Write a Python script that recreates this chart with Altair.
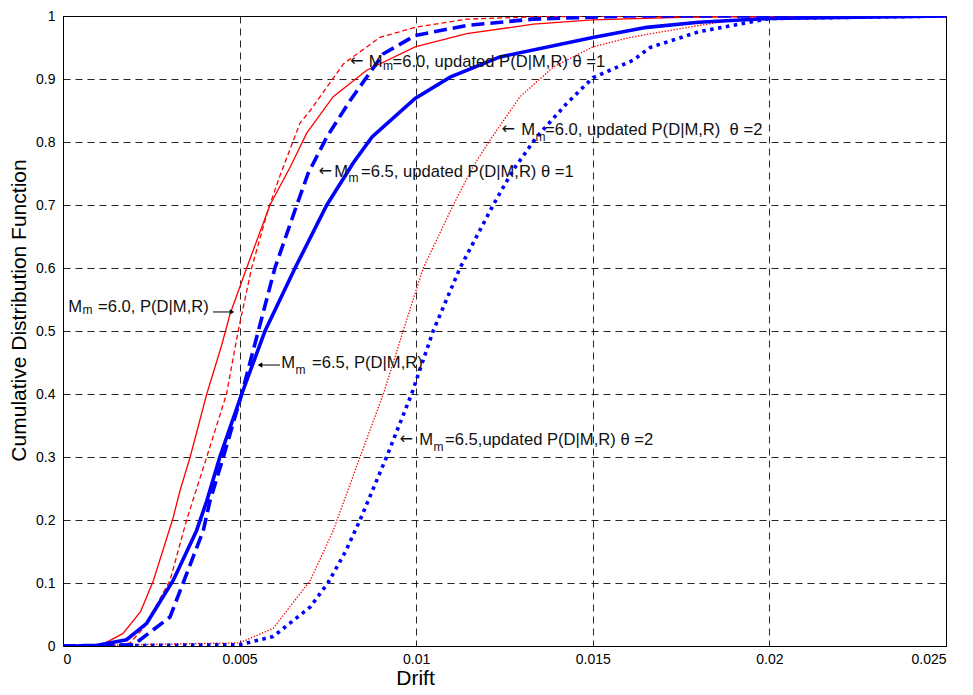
import altair as alt
import pandas as pd

FONT = "Liberation Sans"

# ---------------- data ----------------
# Mm=6.0, P(D|M,R)  (red solid)
r60_x = [0, 0.0011, 0.0017, 0.0022, 0.00256, 0.00312, 0.00331, 0.0036, 0.00407, 0.00449, 0.00473,
         0.0052, 0.00586, 0.00643, 0.0069, 0.00765, 0.0086, 0.00997, 0.01143, 0.01332, 0.015, 0.0175, 0.02, 0.025]
r60_y = [0, 0.002, 0.02, 0.055, 0.104, 0.204, 0.246, 0.3, 0.4, 0.477, 0.527,
         0.6, 0.7, 0.76, 0.814, 0.872, 0.914, 0.951, 0.972, 0.987, 0.994, 0.998, 0.999, 1.0]

# Mm=6.0, updated P(D|M,R) theta=1  (red dashed)
r60u1_x = [0, 0.0015, 0.0019, 0.0023, 0.00303, 0.0035, 0.00407, 0.00463, 0.00496, 0.00534, 0.00581,
           0.00614, 0.00671, 0.007, 0.00794, 0.00897, 0.00997, 0.01143, 0.0135, 0.017, 0.025]
r60u1_y = [0, 0.0, 0.005, 0.03, 0.104, 0.2, 0.3, 0.4, 0.5, 0.6, 0.693,
           0.746, 0.83, 0.85, 0.924, 0.966, 0.982, 0.995, 0.999, 1.0, 1.0]

# Mm=6.0, updated P(D|M,R) theta=2  (red dotted)
r60u2_x = [0, 0.005, 0.00595, 0.007, 0.00765, 0.00841, 0.00907, 0.00963, 0.0102, 0.01105, 0.01162,
           0.01209, 0.01294, 0.01388, 0.015, 0.01605, 0.018, 0.0194, 0.022, 0.025]
r60u2_y = [0, 0.005, 0.028, 0.104, 0.183, 0.3, 0.4, 0.5, 0.6, 0.7, 0.762,
           0.803, 0.872, 0.919, 0.951, 0.966, 0.985, 0.997, 0.999, 1.0]

# Mm=6.5, P(D|M,R)  (blue solid)
b65_x = [0, 0.00086, 0.0018, 0.00237, 0.00312, 0.00378, 0.00407, 0.00444, 0.00506, 0.00572,
         0.00657, 0.00747, 0.00822, 0.00875, 0.00997, 0.01096, 0.01237, 0.015, 0.01653, 0.018, 0.02, 0.025]
b65_y = [0, 0.0, 0.01, 0.036, 0.104, 0.183, 0.23, 0.3, 0.4, 0.5,
         0.6, 0.7, 0.767, 0.808, 0.869, 0.903, 0.935, 0.966, 0.982, 0.99, 0.996, 1.0]

# Mm=6.5, updated P(D|M,R) theta=1  (blue dashed)
b65u1_x = [0, 0.002, 0.00303, 0.00397, 0.00416, 0.00454, 0.00506, 0.00553, 0.006, 0.00662, 0.00694,
           0.00747, 0.00813, 0.00907, 0.00997, 0.01143, 0.0133, 0.016, 0.025]
b65u1_y = [0, 0.002, 0.046, 0.183, 0.23, 0.3, 0.4, 0.5, 0.6, 0.7, 0.75,
           0.808, 0.866, 0.94, 0.969, 0.985, 0.995, 1.0, 1.0]

# Mm=6.5, updated P(D|M,R) theta=2  (blue dotted)
b65u2_x = [0, 0.005, 0.00595, 0.007, 0.0075, 0.008, 0.00841, 0.00916, 0.00987, 0.01048, 0.01124,
           0.01218, 0.01275, 0.01341, 0.01426, 0.015, 0.01615, 0.01662, 0.018, 0.02, 0.025]
b65u2_y = [0, 0.002, 0.015, 0.062, 0.1, 0.15, 0.2, 0.3, 0.4, 0.5, 0.6,
           0.7, 0.756, 0.808, 0.861, 0.902, 0.93, 0.95, 0.975, 0.996, 1.0]

x_ticks = [0, 0.005, 0.01, 0.015, 0.02, 0.025]
y_ticks = [0, 0.1, 0.2, 0.3, 0.4, 0.5, 0.6, 0.7, 0.8, 0.9, 1.0]

# annotations: optional arrow glyph, "M", subscript "m", remainder
ann_arrow = ["\u2190", "\u2190", "\u2190", "", "", "\u2190"]
ann_rest = ["=6.0, updated P(D|M,R) \u03b8 =1",
            "=6.0, updated P(D|M,R) \u00a0\u03b8 =2",
            "=6.5, updated P(D|M,R) \u03b8 =1",
            "=6.0, P(D|M,R)",
            "=6.5, P(D|M,R)",
            "=6.5,updated P(D|M,R) \u03b8 =2"]
ann_x = [0.009046, 0.013363, 0.008069, 0.000538, 0.006568, 0.010476]
ann_y = [0.9195, 0.8111, 0.7449, 0.5306, 0.4408, 0.319]
ann_sub_dy = [3, 6, 5, 2, 6, 6]
ann_rest_dx = [10, 10, 13, 16, 17, 12]
ann_arrow_dx = [-19, -20, -16, 0, 0, -20]

# drawn arrows (line + head): start x, head x, y
arr_x1 = [0.004247, 0.006144]
arr_x2 = [0.004785, 0.005578]
arr_y = [0.5302, 0.446]
arr_shape = ["triangle-right", "triangle-left"]

# ---------------- chart ----------------
xscale = alt.Scale(domain=[0, 0.025], nice=False, zero=False)
yscale = alt.Scale(domain=[0, 1], nice=False)
xaxis = alt.Axis(values=x_ticks, format="~g", title="Drift", titleX=352, titleY=21,
                 titleAnchor="start", titleAlign="center", titleBaseline="top")
yaxis = alt.Axis(values=y_ticks, format="~g", title="Cumulative Distribution Function",
                 titleX=-44, titleY=294, titleAlign="center", titleBaseline="middle", titleAngle=-90)

X = alt.X("x:Q", scale=xscale, axis=xaxis)
Y = alt.Y("y:Q", scale=yscale, axis=yaxis)


def line_layer(xs, ys, color, width, dash=None):
    df = pd.DataFrame({"x": xs, "y": ys})
    kw = dict(color=color, strokeWidth=width, clip=True)
    if dash:
        kw["strokeDash"] = dash
    return alt.Chart(df).mark_line(**kw).encode(x=X, y=Y)


layers = [
    line_layer(r60_x, r60_y, "#ff0000", 1.3),
    line_layer(r60u1_x, r60u1_y, "#ff0000", 1.3, [5, 3]),
    line_layer(r60u2_x, r60u2_y, "#ff0000", 1.3, [1.4, 1.6]),
    line_layer(b65_x, b65_y, "#0000ff", 3.6),
    line_layer(b65u1_x, b65u1_y, "#0000ff", 3.6, [13, 6]),
    line_layer(b65u2_x, b65u2_y, "#0000ff", 3.6, [3.5, 4.5]),
]

FS = 16.6
for i in range(len(ann_rest)):
    df = pd.DataFrame({"x": [ann_x[i]], "y": [ann_y[i]], "a": [ann_arrow[i]], "p": ["M"],
                       "s": ["m"], "r": [ann_rest[i]]})
    base = alt.Chart(df)
    if ann_arrow[i]:
        layers.append(base.mark_text(align="right", baseline="alphabetic", font="DejaVu Sans",
                                     fontSize=16, color="#111", dx=ann_arrow_dx[i], dy=-1).encode(
            x=X, y=Y, text="a:N"))
    layers.append(base.mark_text(align="right", baseline="alphabetic", font=FONT,
                                 fontSize=FS, color="#111").encode(x=X, y=Y, text="p:N"))
    layers.append(base.mark_text(align="left", baseline="alphabetic", font=FONT,
                                 fontSize=12, color="#111", dx=0.5,
                                 dy=ann_sub_dy[i]).encode(x=X, y=Y, text="s:N"))
    layers.append(base.mark_text(align="left", baseline="alphabetic", font=FONT,
                                 fontSize=FS, color="#111",
                                 dx=ann_rest_dx[i]).encode(x=X, y=Y, text="r:N"))

arr_df = pd.DataFrame({"x": arr_x1, "x2": arr_x2, "y": arr_y, "shape": arr_shape})
layers.append(alt.Chart(arr_df).mark_rule(color="black", strokeWidth=1).encode(
    x=X, x2="x2:Q", y=Y))
layers.append(alt.Chart(arr_df).mark_point(filled=True, color="black", size=28, opacity=1).encode(
    x=alt.X("x2:Q", scale=xscale, axis=xaxis), y=Y,
    shape=alt.Shape("shape:N", scale=None)))

chart = alt.layer(*layers).properties(
    width=883, height=630,
    autosize=alt.AutoSizeParams(type="none"),
    padding={"left": 55, "top": 8, "right": 19, "bottom": 48},
).configure_view(stroke="black", strokeWidth=1).configure_axis(
    domain=False, ticks=False, grid=True, gridColor="black", gridDash=[7, 5],
    gridWidth=1, gridOpacity=0.85,
    labelFont=FONT, labelFontSize=14, labelColor="black",
    titleFont=FONT, titleFontSize=21, titleFontWeight="normal", titleColor="black",
).configure_axisX(labelPadding=6).configure_axisY(labelPadding=8)

chart.save("out.html", embed_options={"renderer": "svg", "actions": False})
